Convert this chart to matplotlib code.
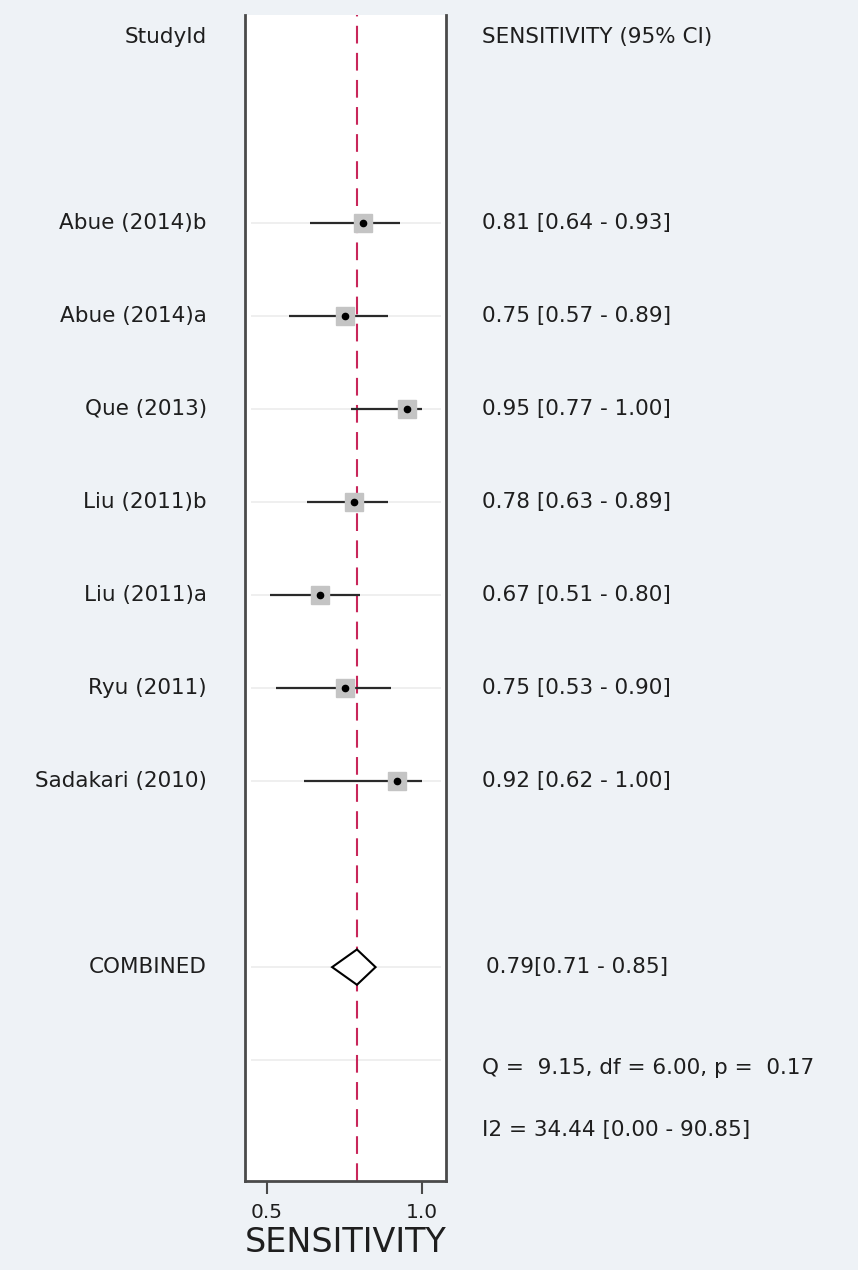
import numpy as np
import matplotlib.pyplot as plt
from matplotlib.transforms import blended_transform_factory

# ------------------------------------------------------------
# data
# ------------------------------------------------------------
studies = ["Abue (2014)b", "Abue (2014)a", "Que (2013)", "Liu (2011)b",
           "Liu (2011)a", "Ryu (2011)", "Sadakari (2010)"]
sens = [0.81, 0.75, 0.95, 0.78, 0.67, 0.75, 0.92]
sens_lo = [0.64, 0.57, 0.77, 0.63, 0.51, 0.53, 0.62]
sens_hi = [0.93, 0.89, 1.00, 0.89, 0.80, 0.90, 1.00]

pooled = 0.79
pooled_lo = 0.71
pooled_hi = 0.85

q_text = "Q =  9.15, df = 6.00, p =  0.17"
i2_text = "I2 = 34.44 [0.00 - 90.85]"

xticks = [0.5, 1.0]
xtick_labels = ["0.5", "1.0"]

BG = "#eef2f6"
TXT = "#1e1e1e"
FONT = "DejaVu Sans"
FS = 15.5

plt.rcParams["font.family"] = [FONT]

fig = plt.figure(figsize=(8.58, 12.70), dpi=100, facecolor=BG)
ax = fig.add_axes([0.2855, 0.0701, 0.2343, 0.9181])
ax.set_facecolor("white")

rows = np.arange(len(studies))
comb_row = 8
q_row = 9.08
i2_row = 9.75
head_row = -2.0

ax.set_xlim(0.429, 1.077)
ax.set_ylim(10.30, -2.24)

# faint row gridlines
for r in list(rows) + [comb_row, 9]:
    ax.hlines(r, 0.45, 1.06, color="#ececec", lw=1.2, zorder=0)

# pooled estimate line
ax.axvline(pooled, color="#c8265a", lw=1.5, dashes=(8.5, 4.5), zorder=1)

# study CIs and points
for r, s, lo, hi in zip(rows, sens, sens_lo, sens_hi):
    ax.plot([lo, hi], [r, r], color="#2a2a2a", lw=1.6, zorder=2,
            solid_capstyle="butt")
    ax.plot(s, r, marker="s", ms=12.5, color="#c4c4c4", mec="#c4c4c4", zorder=3)
    ax.plot(s, r, marker="o", ms=4.5, color="black", zorder=4)

# combined diamond
dh = 0.19
ax.fill([pooled_lo, pooled, pooled_hi, pooled, pooled_lo],
        [comb_row, comb_row - dh, comb_row, comb_row + dh, comb_row],
        facecolor="white", edgecolor="black", lw=1.5, zorder=5)

# axes styling
for side in ["left", "right", "bottom"]:
    ax.spines[side].set_color("#4a4a4a")
    ax.spines[side].set_linewidth(2)
ax.spines["top"].set_visible(False)
ax.set_yticks([])
ax.set_xticks(xticks)
ax.set_xticklabels(xtick_labels, fontsize=14.5, color=TXT)
ax.tick_params(axis="x", direction="out", length=9, width=1.5,
               color="#4a4a4a", pad=7)
ax.set_xlabel("SENSITIVITY", fontsize=24, color=TXT, labelpad=3)

# text columns
tr = blended_transform_factory(ax.transAxes, ax.transData)
left_x = -0.189
right_x = 1.179

ax.text(left_x, head_row, "StudyId", transform=tr, ha="right", va="center",
        fontsize=FS, color=TXT, clip_on=False)
ax.text(right_x, head_row, "SENSITIVITY (95% CI)", transform=tr, ha="left",
        va="center", fontsize=FS, color=TXT, clip_on=False)

for r, name, s, lo, hi in zip(rows, studies, sens, sens_lo, sens_hi):
    ax.text(left_x, r, name, transform=tr, ha="right", va="center",
            fontsize=FS, color=TXT, clip_on=False)
    ax.text(right_x, r, f"{s:.2f} [{lo:.2f} - {hi:.2f}]", transform=tr,
            ha="left", va="center", fontsize=FS, color=TXT, clip_on=False)

ax.text(left_x, comb_row, "COMBINED", transform=tr, ha="right", va="center",
        fontsize=FS, color=TXT, clip_on=False)
ax.text(right_x + 0.02, comb_row,
        f"{pooled:.2f}[{pooled_lo:.2f} - {pooled_hi:.2f}]", transform=tr,
        ha="left", va="center", fontsize=FS, color=TXT, clip_on=False)
ax.text(right_x, q_row, q_text, transform=tr, ha="left", va="center",
        fontsize=FS, color=TXT, clip_on=False)
ax.text(right_x, i2_row, i2_text, transform=tr, ha="left", va="center",
        fontsize=FS, color=TXT, clip_on=False)

fig.savefig("out.png", dpi=100, facecolor=BG)
